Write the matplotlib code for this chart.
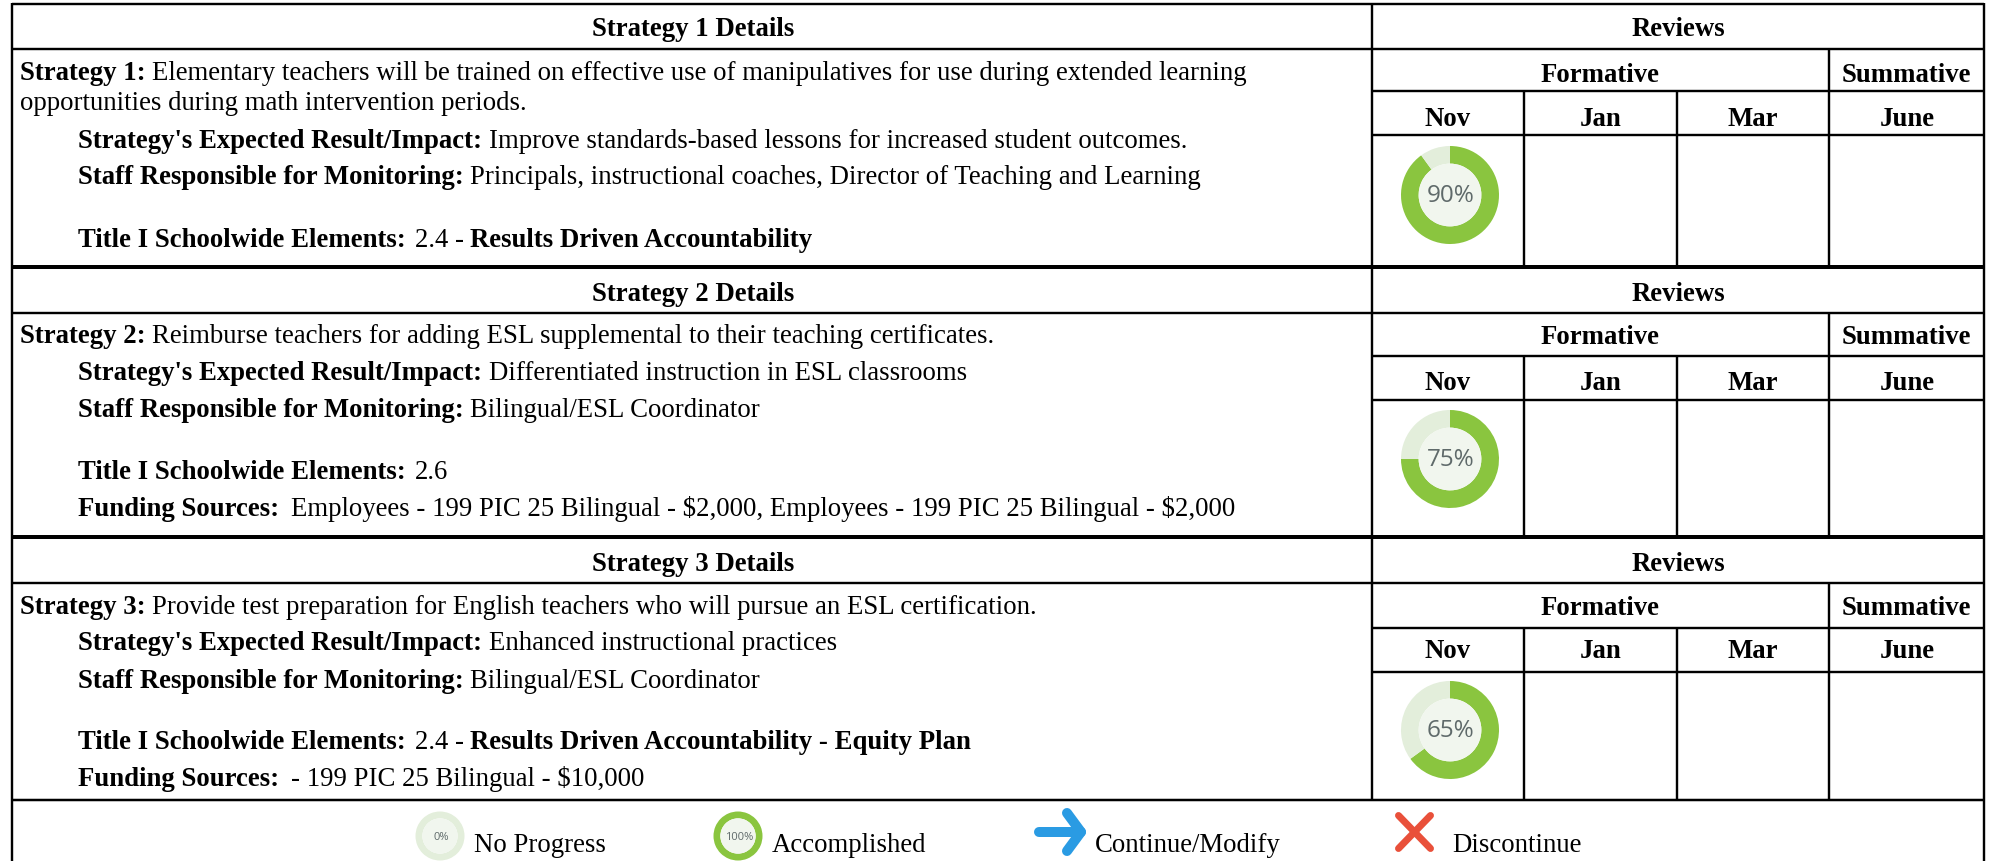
import matplotlib
matplotlib.use("Agg")
import matplotlib.pyplot as plt

plt.rcParams["text.parse_math"] = False

W, H = 1993, 862
FONT = "Liberation Serif"
FS = 19.3
DY = 1

section_titles = ["Strategy 1 Details", "Strategy 2 Details", "Strategy 3 Details"]
review_progress = [90, 75, 65]
months = ["Nov", "Jan", "Mar", "June"]
legend_labels = ["No Progress", "Accomplished", "Continue/Modify", "Discontinue"]
legend_progress = [0, 100]

TITLE_LABEL = "Title I Schoolwide Elements: \u200a"
FUND_LABEL = "Funding Sources: \u2009"

body_1 = [
    (20, 79, [("Strategy 1: ", True), ("Elementary teachers will be trained on effective use of manipulatives for use during extended learning", False)]),
    (20, 109, [("opportunities during math intervention periods.", False)]),
    (78, 147, [("Strategy's Expected Result/Impact: ", True), ("Improve standards-based lessons for increased student outcomes.", False)]),
    (78, 183, [("Staff Responsible for Monitoring: ", True), ("Principals, instructional coaches, Director of Teaching and Learning", False)]),
    (78, 246, [(TITLE_LABEL, True), ("2.4 - ", False), ("Results Driven Accountability", True)]),
]
body_2 = [
    (20, 342, [("Strategy 2: ", True), ("Reimburse teachers for adding ESL supplemental to their teaching certificates.", False)]),
    (78, 379, [("Strategy's Expected Result/Impact: ", True), ("Differentiated instruction in ESL classrooms", False)]),
    (78, 416, [("Staff Responsible for Monitoring: ", True), ("Bilingual/ESL Coordinator", False)]),
    (78, 478, [(TITLE_LABEL, True), ("2.6", False)]),
    (78, 515, [(FUND_LABEL, True), ("Employees - 199 PIC 25 Bilingual - $2,000, Employees - 199 PIC 25 Bilingual - $2,000", False)]),
]
body_3 = [
    (20, 613, [("Strategy 3: ", True), ("Provide test preparation for English teachers who will pursue an ESL certification.", False)]),
    (78, 649, [("Strategy's Expected Result/Impact: ", True), ("Enhanced instructional practices", False)]),
    (78, 687, [("Staff Responsible for Monitoring: ", True), ("Bilingual/ESL Coordinator", False)]),
    (78, 748, [(TITLE_LABEL, True), ("2.4 - ", False), ("Results Driven Accountability - Equity Plan", True)]),
    (78, 785, [(FUND_LABEL, True), ("- 199 PIC 25 Bilingual - $10,000", False)]),
]

GREEN, PALE, INNER = "#8ac53f", "#e3eedb", "#f1f6ee"

fig = plt.figure(figsize=(W / 100, H / 100), dpi=100)
ax = fig.add_axes([0, 0, 1, 1])
ax.set_xlim(0, W)
ax.set_ylim(H, 0)
ax.axis("off")
renderer = fig.canvas.get_renderer()


def hline(y, x0=12, x1=1984, px=2.4):
    ax.plot([x0, x1], [y, y], color="black", lw=px * 0.72, solid_capstyle="butt")


def vline(x, y0, y1, px=2.4):
    ax.plot([x, x], [y0, y1], color="black", lw=px * 0.72, solid_capstyle="butt")


def text_width(s, bold):
    t = ax.text(0, 0, s + "|", family=FONT, fontsize=FS, weight="bold" if bold else "normal")
    bar = ax.text(0, 0, "|", family=FONT, fontsize=FS, weight="bold" if bold else "normal")
    w = t.get_window_extent(renderer).width - bar.get_window_extent(renderer).width
    t.remove()
    bar.remove()
    return w


def rich(x, y, runs):
    for s, bold in runs:
        ax.text(x, y + DY, s, family=FONT, fontsize=FS, weight="bold" if bold else "normal",
                va="baseline", ha="left", color="black")
        x += text_width(s, bold)


def centered(x, y, s):
    ax.text(x, y + DY, s, family=FONT, fontsize=FS, weight="bold", ha="center", va="baseline", color="black")


def donut(cx, cy, r, value, label, fs, inner=0.64):
    vals = [value, 100 - value] if 0 < value < 100 else [100]
    cols = [GREEN, PALE] if 0 < value < 100 else ([GREEN] if value == 100 else [PALE])
    ax.pie(vals, colors=cols, startangle=-90, counterclock=True, center=(cx, cy), radius=r,
           frame=True, wedgeprops=dict(width=r * (1 - inner), linewidth=0))
    ax.pie([1], colors=[INNER], center=(cx, cy), radius=r * inner, frame=True, wedgeprops=dict(linewidth=0))
    ax.text(cx + 1, cy + 0.5, label, family="Open Sans", fontsize=fs, color="#5f6a6a", ha="center", va="center")


x_left, x_split, x_right = 12, 1372, 1984
x_nov, x_jan, x_mar = 1524, 1677, 1829
centers = [1448, 1601, 1753, 1907]

section_tops = [5, 268, 538]
section_rows = [(49.5, 91.5, 136), (314, 356.5, 400.5), (584, 628.5, 673)]
section_bottoms = [268, 538, 801]
header_base = [(35, 81, 125), (300, 343, 389), (570, 614, 657)]
donut_y = [196, 460, 731]
bodies = [body_1, body_2, body_3]

for i in range(3):
    top, bot = section_tops[i], section_bottoms[i]
    r1, r2, r3 = section_rows[i]
    hline(r1)
    hline(r2, x_split, x_right)
    hline(r3, x_split, x_right)
    vline(x_split, top, bot)
    vline(x_nov, r2, bot)
    vline(x_jan, r2, bot)
    vline(x_mar, r1, bot)
    b1, b2, b3 = header_base[i]
    centered((x_left + x_split) / 2 + 1, b1, section_titles[i])
    centered((x_split + x_right) / 2, b1, "Reviews")
    centered((x_split + x_mar) / 2, b2, "Formative")
    centered((x_mar + x_right) / 2, b2, "Summative")
    for cx, m in zip(centers, months):
        centered(cx, b3, m)
    for x, y, runs in bodies[i]:
        rich(x, y, runs)
    donut(1450, donut_y[i], 49, review_progress[i], f"{review_progress[i]}%", 17.5)

hline(5)
hline(268, px=4)
hline(538, px=4)
hline(801, px=2.5)
vline(x_left, 4, H)
vline(x_right, 4, H)

# legend
for cx, v in zip([440, 738], legend_progress):
    donut(cx, 837, 24.5, v, f"{v}%", 8, inner=0.72)
for x, s in zip([474, 772, 1095, 1452], legend_labels):
    ax.text(x, 851 + DY, s, family=FONT, fontsize=FS, ha="left", va="baseline", color="black")

# continue arrow
BLUE, RED = "#2a9be3", "#e9503a"
ax.plot([1039, 1081], [833, 833], color=BLUE, lw=10 * 0.72, solid_capstyle="round")
ax.plot([1067, 1081, 1067], [814, 833, 852], color=BLUE, lw=10 * 0.72,
        solid_capstyle="round", solid_joinstyle="round")
# discontinue cross
ax.plot([1398.5, 1430.5], [816.5, 849.5], color=RED, lw=7 * 0.72, solid_capstyle="round")
ax.plot([1430.5, 1398.5], [816.5, 849.5], color=RED, lw=7 * 0.72, solid_capstyle="round")

ax.set_xlim(0, W)
ax.set_ylim(H, 0)
ax.set_aspect("auto")
ax.axis("off")
fig.savefig("out.png", dpi=100, facecolor="white")
